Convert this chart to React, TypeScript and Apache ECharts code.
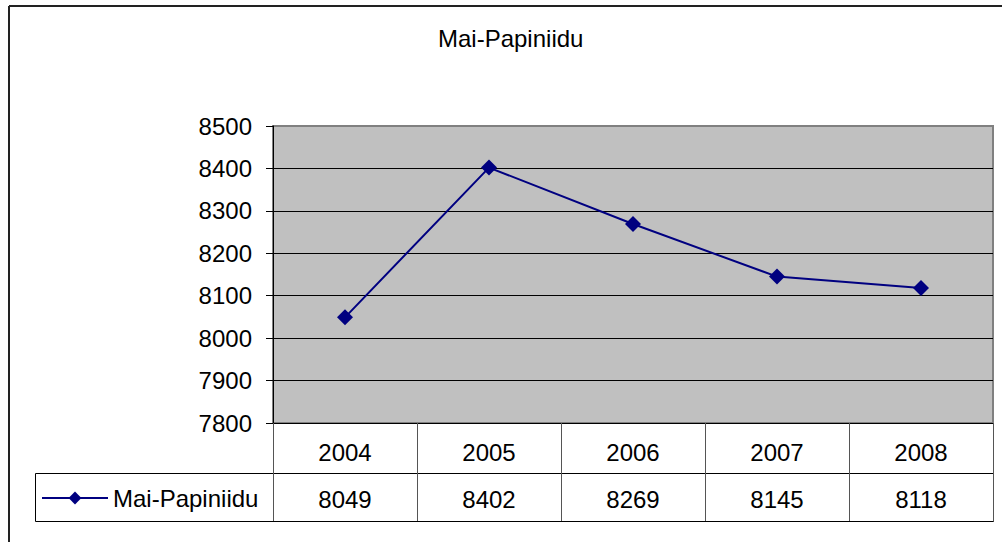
import React, { useEffect, useRef } from "react";
import * as echarts from "echarts";

const title = "Mai-Papiniidu";
const seriesName = "Mai-Papiniidu";
const years = ["2004", "2005", "2006", "2007", "2008"];
const values = [8049, 8402, 8269, 8145, 8118];
const yMin = 7800;
const yMax = 8500;
const yStep = 100;

const FONT = "Liberation Sans, Arial, sans-serif";

export default function App() {
  const ref = useRef<HTMLDivElement>(null);
  useEffect(() => {
    if (!ref.current) return;
    const chart = echarts.init(ref.current, null, { renderer: "svg" });
    const nTicks = (yMax - yMin) / yStep + 1;
    const splitColors = Array.from({ length: nTicks }, (_, i) =>
      i === nTicks - 1 ? "#808080" : "#000000"
    );
    chart.setOption({
      animation: false,
      textStyle: { fontFamily: FONT },
      title: {
        text: title,
        left: 438,
        top: 26,
        padding: 0,
        textStyle: { fontSize: 24, fontWeight: "normal", color: "#000", fontFamily: FONT },
      },
      legend: {
        data: [seriesName],
        left: 41,
        top: 486,
        padding: 0,
        itemWidth: 66,
        itemHeight: 16,
        textStyle: { fontSize: 24, color: "#000", fontFamily: FONT },
        selectedMode: false,
      },
      grid: {
        left: 273,
        top: 126,
        right: 9,
        bottom: 119,
        show: true,
        backgroundColor: "#c0c0c0",
        borderColor: "#808080",
        borderWidth: 2,
      },
      xAxis: [
        {
          type: "category",
          data: years,
          position: "bottom",
          boundaryGap: true,
          axisLine: { show: true, lineStyle: { color: "#000", width: 1 } },
          axisTick: { show: true, length: 50, interval: 0, lineStyle: { color: "#555" } },
          axisLabel: { fontSize: 24, color: "#000", margin: 17, fontFamily: FONT, interval: 0 },
          splitLine: { show: false },
        },
        {
          type: "category",
          data: values.map((v) => String(v)),
          position: "bottom",
          offset: 50,
          boundaryGap: true,
          axisLine: { show: true, lineStyle: { color: "#000", width: 1 } },
          axisTick: { show: true, length: 48, interval: 0, lineStyle: { color: "#555" } },
          axisLabel: { fontSize: 24, color: "#000", margin: 14, fontFamily: FONT, interval: 0 },
          splitLine: { show: false },
        },
      ],
      yAxis: {
        type: "value",
        min: yMin,
        max: yMax,
        interval: yStep,
        axisLine: { show: true, lineStyle: { color: "#000", width: 1 } },
        axisTick: { show: true, length: 7, lineStyle: { color: "#000" } },
        axisLabel: {
          fontSize: 24,
          color: "#000",
          margin: 21,
          fontFamily: FONT,
          formatter: (v: number) => String(v),
        },
        splitLine: { show: true, lineStyle: { color: splitColors, width: 1 } },
      },
      series: [
        {
          name: seriesName,
          type: "line",
          xAxisIndex: 0,
          data: values,
          color: "#000080",
          lineStyle: { color: "#000080", width: 2 },
          itemStyle: { color: "#000080" },
          symbol: "diamond",
          symbolSize: 16,
          showSymbol: true,
        },
      ],
      graphic: [
        {
          type: "line",
          shape: { x1: 9, y1: 6, x2: 1002, y2: 6 },
          style: { stroke: "#222", lineWidth: 2 },
        },
        {
          type: "line",
          shape: { x1: 9, y1: 6, x2: 9, y2: 542 },
          style: { stroke: "#222", lineWidth: 2 },
        },
        {
          type: "rect",
          shape: { x: 35.5, y: 473.5, width: 958, height: 48 },
          style: { fill: "none", stroke: "#000", lineWidth: 1 },
        },
      ],
    });
    return () => chart.dispose();
  }, []);
  return (
    <div
      ref={ref}
      style={{ position: "fixed", left: 0, top: 0, width: 1002, height: 542, background: "#fff" }}
    />
  );
}
